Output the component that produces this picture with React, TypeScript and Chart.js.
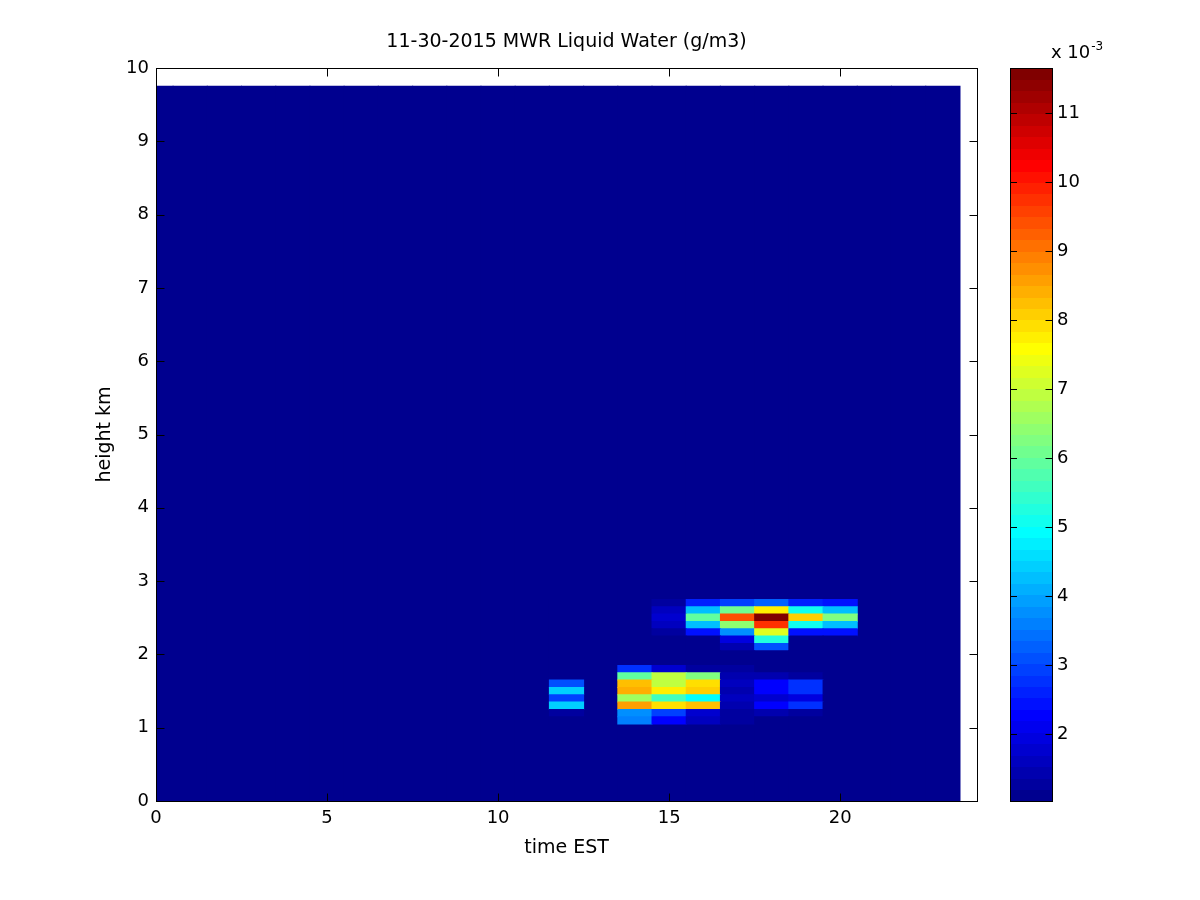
import React, { useEffect, useRef } from "react";
import { Chart, registerables } from "chart.js";

Chart.register(...registerables);

// ---------------- data ----------------
const TITLE = "11-30-2015 MWR Liquid Water (g/m3)";
const X_LABEL = "time EST";
const Y_LABEL = "height km";
const CB_EXPONENT_BASE = "x 10";
const CB_EXPONENT_POWER = "-3";

// time grid (hours EST, cell centres) and top of the retrieval grid (km)
const HOURS_EST = [0, 1, 2, 3, 4, 5, 6, 7, 8, 9, 10, 11, 12, 13, 14, 15, 16, 17, 18, 19, 20, 21, 22, 23];
const DATA_TOP_KM = 9.75;
const BACKGROUND_LWC = 1.03; // value everywhere outside the cloud layers (x 1e-3 g/m3)

// cloud layers: heights (km, cell centres) x hours with liquid water
const HEIGHT_KM = [1.1, 1.2, 1.3, 1.4, 1.5, 1.6, 1.7, 1.8, 1.9, 2.0, 2.1, 2.2, 2.3, 2.4, 2.5, 2.6, 2.7];
const CLOUD_HOURS = [12, 14, 15, 16, 17, 18, 19, 20];
// liquid water (x 1e-3 g/m3), one row per height above, columns = CLOUD_HOURS
const LWC_ROWS: number[][] = [
  [1.03, 3.6, 2.3, 1.6, 1.2, 1.03, 1.03, 1.03], // 1.1
  [1.3, 3.8, 3.0, 1.8, 1.3, 1.5, 1.2, 1.03], // 1.2
  [4.5, 8.6, 7.9, 8.2, 1.5, 2.3, 2.7, 1.03], // 1.3
  [3.0, 6.6, 5.6, 4.9, 1.6, 1.8, 1.9, 1.03], // 1.4
  [4.5, 8.4, 7.7, 8.1, 1.5, 2.3, 2.8, 1.03], // 1.5
  [3.1, 8.3, 7.0, 7.9, 1.6, 2.3, 2.8, 1.03], // 1.6
  [1.03, 6.0, 7.0, 6.3, 1.5, 1.4, 1.2, 1.03], // 1.7
  [1.03, 2.8, 1.7, 1.3, 1.2, 1.1, 1.03, 1.03], // 1.8
  [1.03, 1.03, 1.03, 1.03, 1.03, 1.03, 1.03, 1.03], // 1.9
  [1.03, 1.03, 1.03, 1.03, 1.03, 1.03, 1.03, 1.03], // 2.0
  [1.03, 1.03, 1.03, 1.03, 1.5, 3.1, 1.03, 1.03], // 2.1
  [1.03, 1.03, 1.03, 1.1, 1.9, 5.3, 1.1, 1.03], // 2.2
  [1.03, 1.03, 1.2, 2.5, 3.8, 7.3, 2.5, 2.4], // 2.3
  [1.03, 1.03, 1.6, 4.3, 6.5, 9.7, 5.1, 4.2], // 2.4
  [1.03, 1.03, 1.8, 5.9, 9.4, 11.5, 8.0, 6.3], // 2.5
  [1.03, 1.03, 1.6, 4.3, 6.1, 7.8, 5.1, 4.3], // 2.6
  [1.03, 1.03, 1.2, 2.6, 3.0, 3.3, 2.6, 2.5], // 2.7
];

// axes
const X_RANGE = [0, 24];
const Y_RANGE = [0, 10];
const X_TICKS = [0, 5, 10, 15, 20];
const Y_TICKS = [0, 1, 2, 3, 4, 5, 6, 7, 8, 9, 10];
const CLIM = [1.03, 11.65]; // colour limits (x 1e-3)
const CB_TICKS = [2, 3, 4, 5, 6, 7, 8, 9, 10, 11];

// ---------------- colormap (MATLAB jet(64)) ----------------
const JET: number[][] = (() => {
  const m = 64;
  const n = 16;
  const u: number[] = [];
  for (let i = 1; i <= n; i++) u.push(i / n);
  for (let i = 1; i < n; i++) u.push(1);
  for (let i = n; i >= 1; i--) u.push(i / n);
  const J = Array.from({ length: m }, () => [0, 0, 0]);
  for (let k = 0; k < u.length; k++) {
    const g = 8 + k + 1;
    const r = g + n;
    const b = g - n;
    if (r >= 1 && r <= m) J[r - 1][0] = u[k];
    if (g >= 1 && g <= m) J[g - 1][1] = u[k];
    if (b >= 1 && b <= m) J[b - 1][2] = u[k];
  }
  return J;
})();

function jetIndexColor(k: number): string {
  const c = JET[k];
  return `rgb(${Math.round(c[0] * 255)},${Math.round(c[1] * 255)},${Math.round(c[2] * 255)})`;
}

function jetColor(v: number): string {
  let k = Math.floor(((v - CLIM[0]) / (CLIM[1] - CLIM[0])) * 64);
  if (k < 0) k = 0;
  if (k > 63) k = 63;
  return jetIndexColor(k);
}

const FONT = "'DejaVu Sans', sans-serif";

const frameAndColorbar = {
  id: "frameAndColorbar",
  afterDraw(chart: any) {
    const { ctx, chartArea: a, scales } = chart;
    const xs = scales.x;
    const ys = scales.y;
    const cb = scales.cb;
    ctx.save();
    ctx.strokeStyle = "#000";
    ctx.lineWidth = 1;
    const L = Math.round(a.left) + 0.5;
    const R = Math.round(a.right) + 0.5;
    const T = Math.round(a.top) + 0.5;
    const B = Math.round(a.bottom) + 0.5;
    ctx.strokeRect(L, T, R - L, B - T);
    const tick = 8;
    ctx.beginPath();
    for (const v of X_TICKS) {
      const p = Math.round(xs.getPixelForValue(v)) + 0.5;
      ctx.moveTo(p, B);
      ctx.lineTo(p, B - tick);
      ctx.moveTo(p, T);
      ctx.lineTo(p, T + tick);
    }
    for (const v of Y_TICKS) {
      const p = Math.round(ys.getPixelForValue(v)) + 0.5;
      ctx.moveTo(L, p);
      ctx.lineTo(L + tick, p);
      ctx.moveTo(R, p);
      ctx.lineTo(R - tick, p);
    }
    ctx.stroke();

    // colorbar
    const cbL = Math.round(a.right) + 33;
    const cbR = Math.round(a.right) + 75;
    const step = (CLIM[1] - CLIM[0]) / 64;
    for (let k = 0; k < 64; k++) {
      const y0 = cb.getPixelForValue(CLIM[0] + k * step);
      const y1 = cb.getPixelForValue(CLIM[0] + (k + 1) * step);
      ctx.fillStyle = jetIndexColor(k);
      ctx.fillRect(cbL, Math.floor(y1), cbR - cbL, Math.ceil(y0) - Math.floor(y1));
    }
    ctx.strokeRect(cbL + 0.5, T, cbR - cbL, B - T);
    ctx.beginPath();
    for (const v of CB_TICKS) {
      const p = Math.round(cb.getPixelForValue(v)) + 0.5;
      ctx.moveTo(cbL, p);
      ctx.lineTo(cbL + 7, p);
      ctx.moveTo(cbR + 0.5, p);
      ctx.lineTo(cbR + 0.5 - 7, p);
    }
    ctx.stroke();

    // exponent label
    ctx.fillStyle = "#000";
    ctx.textBaseline = "alphabetic";
    ctx.textAlign = "left";
    ctx.font = `18px ${FONT}`;
    const bx = cbR - 1;
    const by = Math.round(a.top) - 10;
    ctx.fillText(CB_EXPONENT_BASE, bx, by);
    const w = ctx.measureText(CB_EXPONENT_BASE).width;
    ctx.font = `12px ${FONT}`;
    ctx.fillText(CB_EXPONENT_POWER, bx + w + 1, by - 8);
    ctx.restore();
  },
};

function zeroPad(s: any) {
  s.paddingTop = 0;
  s.paddingBottom = 0;
  s.paddingLeft = 0;
  s.paddingRight = 0;
}

export default function App() {
  const ref = useRef<HTMLCanvasElement | null>(null);

  useEffect(() => {
    if (!ref.current) return;
    const half = (HEIGHT_KM[1] - HEIGHT_KM[0]) / 2;
    const datasets: any[] = [];
    HEIGHT_KM.forEach((hk, i) => {
      datasets.push({
        label: `${hk} km`,
        data: CLOUD_HOURS.map((h) => ({ x: h, y: [hk - half, hk + half] })),
        backgroundColor: LWC_ROWS[i].map((v) => jetColor(v)),
        borderWidth: 0,
        inflateAmount: 0.5,
        grouped: false,
        barPercentage: 1,
        categoryPercentage: 1,
        order: 0,
      });
    });
    datasets.push({
      label: "background",
      data: HOURS_EST.map((h) => ({ x: h, y: [0, DATA_TOP_KM] })),
      backgroundColor: HOURS_EST.map(() => jetColor(BACKGROUND_LWC)),
      borderWidth: 0,
      inflateAmount: 0.6,
      grouped: false,
      barPercentage: 1,
      categoryPercentage: 1,
      order: 1,
    });

    const tickFont = { family: FONT, size: 18 };
    const titleFont = { family: FONT, size: 19, weight: "normal" };

    const chart = new Chart(ref.current, {
      type: "bar",
      data: { datasets },
      options: {
        animation: false,
        responsive: false,
        devicePixelRatio: 1,
        events: [],
        layout: { padding: 0 },
        plugins: {
          legend: { display: false },
          tooltip: { enabled: false },
          title: {
            display: true,
            text: TITLE,
            color: "#000",
            font: titleFont,
            fullSize: false,
            padding: { top: 31, bottom: 14.2 },
          },
        },
        scales: {
          x: {
            type: "linear",
            position: "bottom",
            min: X_RANGE[0],
            max: X_RANGE[1],
            offset: false,
            grid: { display: false, drawTicks: false, offset: false },
            border: { display: false },
            afterBuildTicks: (s: any) => {
              s.ticks = X_TICKS.map((v) => ({ value: v }));
            },
            afterFit: (s: any) => {
              s.height = 99;
              zeroPad(s);
            },
            ticks: { color: "#000", font: tickFont, padding: 7, maxRotation: 0, autoSkip: false },
            title: { display: true, text: X_LABEL, color: "#000", font: titleFont, padding: { top: 0, bottom: 41 } },
          },
          y: {
            type: "linear",
            position: "left",
            min: Y_RANGE[0],
            max: Y_RANGE[1],
            grid: { display: false, drawTicks: false },
            border: { display: false },
            afterBuildTicks: (s: any) => {
              s.ticks = Y_TICKS.map((v) => ({ value: v }));
            },
            afterFit: (s: any) => {
              s.width = 156;
              zeroPad(s);
            },
            ticks: { color: "#000", font: tickFont, padding: 7, autoSkip: false },
            title: { display: true, text: Y_LABEL, color: "#000", font: titleFont, padding: { top: 94, bottom: 0 } },
          },
          cb: {
            type: "linear",
            position: "right",
            min: CLIM[0],
            max: CLIM[1],
            grid: { display: false, drawTicks: false },
            border: { display: false },
            afterBuildTicks: (s: any) => {
              s.ticks = CB_TICKS.map((v) => ({ value: v }));
            },
            afterFit: (s: any) => {
              s.width = 223;
              zeroPad(s);
            },
            ticks: { color: "#000", font: tickFont, padding: 80, autoSkip: false },
          },
        },
      } as any,
      plugins: [frameAndColorbar],
    });
    return () => chart.destroy();
  }, []);

  return (
    <div style={{ position: "absolute", left: 0, top: 0, width: 1200, height: 900, background: "#fff" }}>
      <canvas ref={ref} width={1200} height={900} style={{ display: "block" }} />
    </div>
  );
}
